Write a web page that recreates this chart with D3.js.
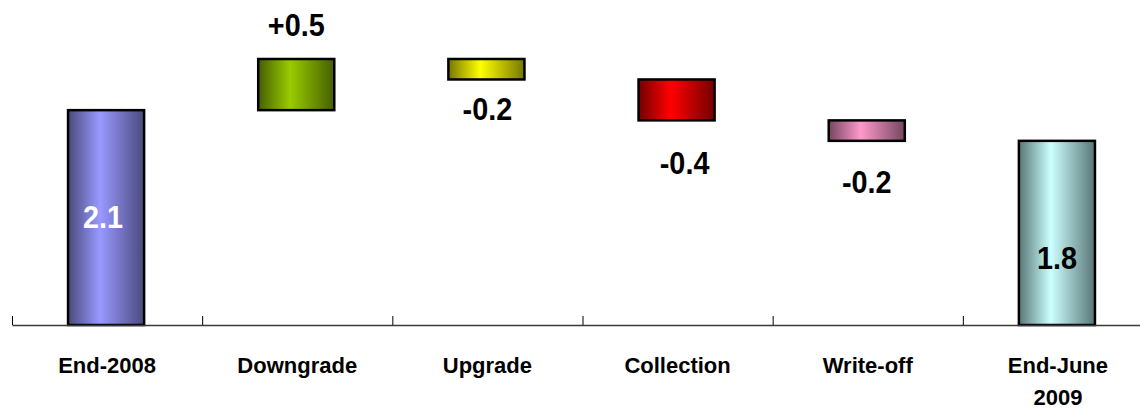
<!DOCTYPE html>
<html>
<head>
<meta charset="utf-8">
<script src="https://cdn.jsdelivr.net/npm/d3@7/dist/d3.min.js"></script>
<style>
  html, body { margin: 0; padding: 0; background: #fff; }
  svg { display: block; font-family: "Liberation Sans", Arial, Helvetica, sans-serif; }
</style>
</head>
<body>
<svg id="chart" width="1140" height="409"></svg>
<script>
// Movements in the balance, end-2008 to end-June 2009
const categories  = ["End-2008", "Downgrade", "Upgrade", "Collection", "Write-off", "End-June 2009"];
const changes     = [2.1, 0.5, -0.2, -0.4, -0.2, 1.8];
const barKinds    = ["total", "delta", "delta", "delta", "delta", "total"];
const valueLabels = ["2.1", "+0.5", "-0.2", "-0.4", "-0.2", "1.8"];
const yDomain     = [0, 2.6];

// ---- layout & style ----
const W = 1140, H = 409;
const axisY = 325;
const palette = [
  { light: "#9999ff", dark: "#4a4a7c", text: "#ffffff" },
  { light: "#99cc00", dark: "#465e00", text: "#000000" },
  { light: "#ffff00", dark: "#767600", text: "#000000" },
  { light: "#ff0000", dark: "#740000", text: "#000000" },
  { light: "#ff99cc", dark: "#74465e", text: "#000000" },
  { light: "#ccffff", dark: "#5a7676", text: "#000000" }
];
// fine placement of each value label (px): [dx, baseline shift]
const labelNudge = [[-3, 0], [0, 0], [1, -11], [8, 2], [0, 0], [0, 0]];

const svg = d3.select("#chart");

// waterfall: running start/end for every bar
let running = 0;
const bars = categories.map((c, i) => {
  let start, end;
  if (barKinds[i] === "total") { start = 0; end = changes[i]; running = changes[i]; }
  else { start = running; end = running + changes[i]; running = end; }
  return { cat: c, i, start, end, kind: barKinds[i], delta: changes[i], label: valueLabels[i] };
});

const x = d3.scaleBand().domain(categories).range([12, 1153]).paddingInner(0).paddingOuter(0);
const xEdge = d3.scaleLinear().domain([0, categories.length]).range([12, 1153]);
const y = d3.scaleLinear().domain(yDomain).range([axisY, 59]);

// horizontal gradients: dark edges, light centre
const defs = svg.append("defs");
palette.forEach((p, i) => {
  const g = defs.append("linearGradient").attr("id", "grad" + i)
    .attr("x1", "0%").attr("x2", "100%").attr("y1", "0%").attr("y2", "0%");
  g.append("stop").attr("offset", "0%").attr("stop-color", p.dark);
  g.append("stop").attr("offset", "42%").attr("stop-color", p.light);
  g.append("stop").attr("offset", "100%").attr("stop-color", p.dark);
});

const barW = x.bandwidth() * 0.4;
const barX = d => x(d.cat) + (x.bandwidth() - barW) / 2 - 1;

svg.append("g").selectAll("rect").data(bars).join("rect")
  .attr("x", barX)
  .attr("width", barW)
  .attr("y", d => y(Math.max(d.start, d.end)))
  .attr("height", d => Math.abs(y(d.start) - y(d.end)))
  .attr("fill", d => `url(#grad${d.i})`)
  .attr("stroke", "#000")
  .attr("stroke-width", 2.5);

// axis line with boundary ticks pointing up
const edgeAxis = d3.axisBottom(xEdge)
  .tickValues(d3.range(0, categories.length + 1))
  .tickSizeInner(-9).tickSizeOuter(0).tickFormat("");
const gEdge = svg.append("g").attr("transform", `translate(0,${axisY})`).call(edgeAxis);
gEdge.select(".domain").attr("stroke", "#3a3a3a").attr("stroke-width", 1.5);
gEdge.selectAll(".tick line").attr("stroke", "#000").attr("stroke-width", 1);

// category labels
const catAxis = d3.axisBottom(x).tickSize(0).tickPadding(0);
const gCat = svg.append("g").attr("transform", `translate(0,${axisY})`).call(catAxis);
gCat.select(".domain").remove();
gCat.selectAll(".tick text").each(function (d) {
  const t = d3.select(this);
  t.text(null).attr("y", 0).attr("dy", null)
    .attr("font-family", "'Liberation Sans', Arial, sans-serif")
    .attr("font-size", 22).attr("font-weight", "bold").attr("fill", "#000");
  d.split(" ").forEach((w, k) => {
    t.append("tspan").attr("x", 0).attr("y", 48 + k * 32).text(w);
  });
});

// value labels
svg.append("g").selectAll("text").data(bars).join("text")
  .attr("transform", d => {
    const cx = barX(d) + barW / 2 + labelNudge[d.i][0];
    let by;
    if (d.kind === "total") {
      by = d.i === 0 ? y(d.end) + 118 : y(d.end) + 128;
    } else if (d.delta > 0) {
      by = y(d.end) - 23;
    } else {
      by = y(d.end) + 52;
    }
    by += labelNudge[d.i][1];
    return `translate(${cx},${by}) scale(0.9,1)`;
  })
  .attr("text-anchor", "middle")
  .attr("font-size", 32)
  .attr("font-weight", "bold")
  .attr("fill", d => palette[d.i].text)
  .text(d => d.label);
</script>
</body>
</html>
